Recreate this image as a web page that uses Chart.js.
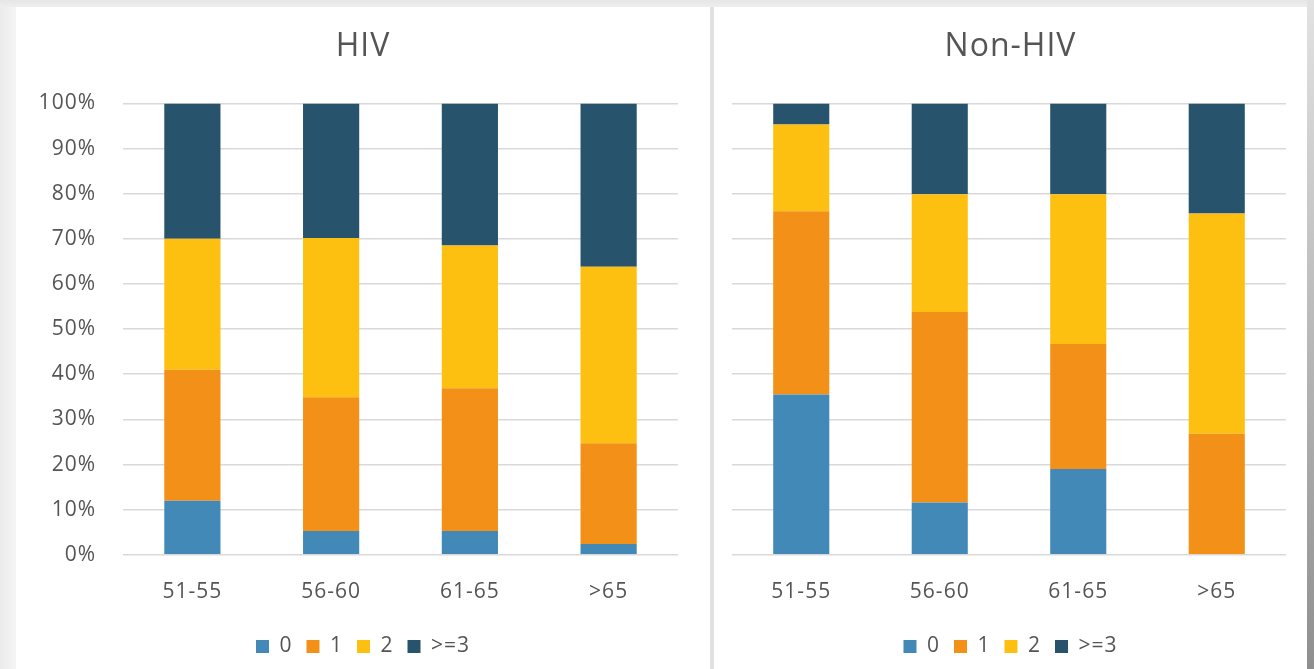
<!DOCTYPE html>
<html>
<head>
<meta charset="utf-8">
<script src="https://cdn.jsdelivr.net/npm/chart.js@4"></script>
<style>
  html, body { margin: 0; padding: 0; }
  body {
    width: 1314px; height: 669px; position: relative; overflow: hidden;
    background: linear-gradient(to right, #ebebeb 0, #f5f5f5 16px, #f0f0f0 100%);
  }
  .topband { position: absolute; left: 0; top: 0; width: 1314px; height: 7px; background: linear-gradient(#e6e6e6, #eeeeee); }
  .panel { position: absolute; top: 7px; height: 662px; background: #fff; }
  #panelHiv { left: 16px; width: 694px; }
  #panelNon { left: 714px; width: 593px; }
  .divider { position: absolute; left: 710px; top: 7px; width: 4px; height: 662px; background: #e2e2e2; }
  .edge { position: absolute; left: 1307px; top: 0; width: 7px; height: 669px; background: linear-gradient(#e2e2e2, #8f8f8f); }
</style>
</head>
<body>
<div class="topband"></div>
<div class="panel" id="panelHiv"><canvas id="hiv" width="694" height="662"></canvas></div>
<div class="divider"></div>
<div class="panel" id="panelNon"><canvas id="nonhiv" width="593" height="662"></canvas></div>
<div class="edge"></div>
<script>
// Age groups and comorbidity-count groups
const categories = ['51-55', '56-60', '61-65', '>65'];
const groupNames = ['0', '1', '2', '>=3'];
const yTicks = [0, 10, 20, 30, 40, 50, 60, 70, 80, 90, 100];

// Share of people (%) per number of comorbidities, HIV
const hivZero      = [12.0,  5.3,  5.3,  2.4];
const hivOne       = [29.0, 29.6, 31.6, 22.3];
const hivTwo       = [29.0, 35.3, 31.6, 39.1];
const hivThreePlus = [30.0, 29.8, 31.5, 36.2];

// Share of people (%) per number of comorbidities, Non-HIV
const nonZero      = [35.5, 11.6, 19.0,  0.0];
const nonOne       = [40.6, 42.2, 27.7, 26.8];
const nonTwo       = [19.2, 26.1, 33.2, 48.8];
const nonThreePlus = [ 4.7, 20.1, 20.1, 24.4];

const groupColors = ['#4389B7', '#F39018', '#FDC010', '#28536D'];
const textColor = '#555555';
const gridColor = '#d9d9d9';
const fontFamily = "'Open Sans', 'DejaVu Sans', sans-serif";

// Slightly open letter spacing for all canvas text
const spacingPlugin = {
  id: 'spacing',
  beforeUpdate(chart) { chart.ctx.letterSpacing = '1px'; },
  beforeDraw(chart) { chart.ctx.letterSpacing = '1px'; }
};

function buildChart(canvasId, title, series, axisWidth, rightGap, showYLabels) {
  const datasets = series.map((values, i) => ({
    label: groupNames[i],
    data: values,
    backgroundColor: groupColors[i],
    borderWidth: 0,
    barPercentage: 0.405,
    categoryPercentage: 1.0
  }));

  return new Chart(document.getElementById(canvasId), {
    type: 'bar',
    data: { labels: categories, datasets },
    plugins: [spacingPlugin],
    options: {
      responsive: false,
      animation: false,
      layout: { padding: { top: 0, bottom: 2, left: 0, right: 0 } },
      plugins: {
        title: {
          display: true,
          text: title,
          color: textColor,
          font: { family: fontFamily, size: 32, weight: 'normal' },
          padding: { top: 21, bottom: 37 }
        },
        legend: {
          position: 'bottom',
          labels: {
            color: textColor,
            font: { family: fontFamily, size: 21 },
            boxWidth: 13,
            boxHeight: 13,
            padding: 14
          }
        },
        tooltip: { enabled: false }
      },
      scales: {
        x: {
          stacked: true,
          grid: { display: false },
          border: { display: false },
          ticks: {
            color: textColor,
            font: { family: fontFamily, size: 21 },
            padding: 17
          }
        },
        y: {
          stacked: true,
          min: 0,
          max: 100,
          afterBuildTicks(scale) { scale.ticks = yTicks.map(v => ({ value: v })); },
          afterFit(scale) { scale.width = axisWidth; },
          grid: { color: gridColor, lineWidth: 1.5, drawTicks: false },
          border: { display: false },
          ticks: {
            display: showYLabels,
            color: textColor,
            font: { family: fontFamily, size: 21 },
            padding: 27,
            callback: v => v + '%'
          }
        },
        gap: {
          position: 'right',
          display: true,
          grid: { display: false },
          border: { display: false },
          ticks: { display: false },
          afterFit(scale) { scale.width = rightGap; }
        }
      }
    }
  });
}

buildChart('hiv', 'HIV', [hivZero, hivOne, hivTwo, hivThreePlus], 107, 32, true);
buildChart('nonhiv', 'Non-HIV', [nonZero, nonOne, nonTwo, nonThreePlus], 18, 21, false);
</script>
</body>
</html>
